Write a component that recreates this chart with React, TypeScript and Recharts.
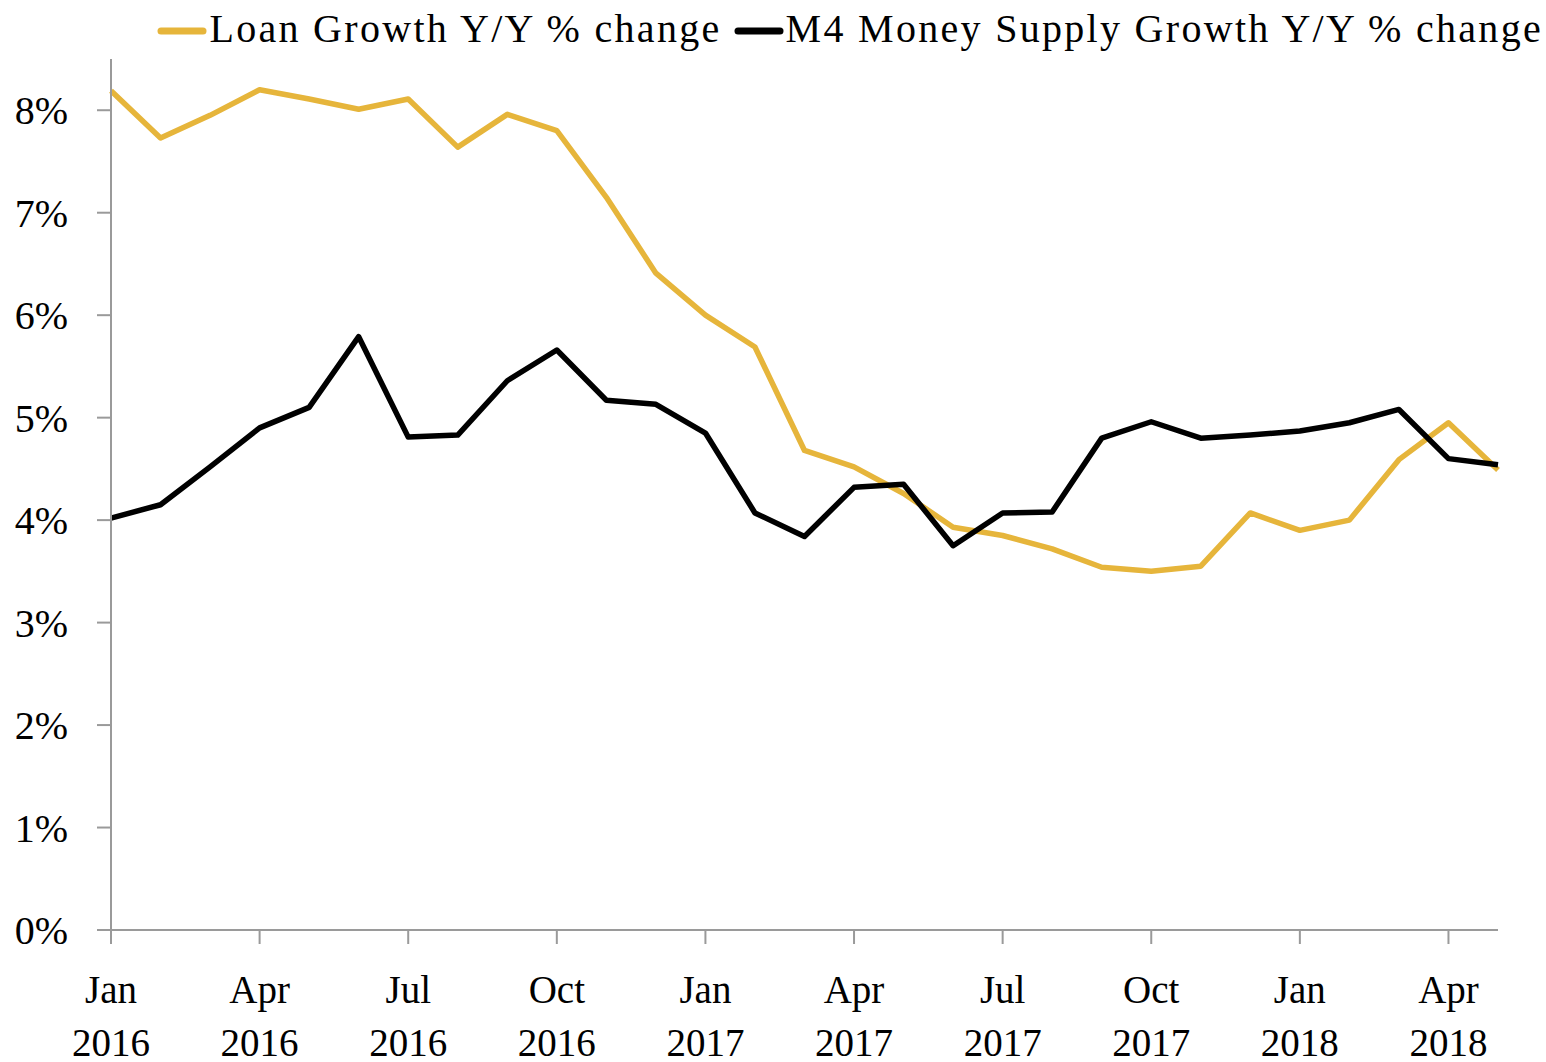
import React from 'react';
import { LineChart, Line, XAxis, YAxis, Legend } from 'recharts';

const months = [
  'Jan 2016', 'Feb 2016', 'Mar 2016', 'Apr 2016', 'May 2016', 'Jun 2016', 'Jul 2016', 'Aug 2016', 'Sep 2016', 'Oct 2016', 'Nov 2016', 'Dec 2016',
  'Jan 2017', 'Feb 2017', 'Mar 2017', 'Apr 2017', 'May 2017', 'Jun 2017', 'Jul 2017', 'Aug 2017', 'Sep 2017', 'Oct 2017', 'Nov 2017', 'Dec 2017',
  'Jan 2018', 'Feb 2018', 'Mar 2018', 'Apr 2018', 'May 2018',
];

const loanGrowth = [
  8.19, 7.73, 7.95, 8.2, 8.11, 8.01, 8.11, 7.64, 7.96, 7.8, 7.15, 6.41,
  6.0, 5.69, 4.68, 4.52, 4.26, 3.93, 3.85, 3.72, 3.54, 3.5, 3.55, 4.07,
  3.9, 4.0, 4.59, 4.95, 4.49,
];

const m4Growth = [
  4.02, 4.15, 4.52, 4.9, 5.1, 5.79, 4.81, 4.83, 5.36, 5.66, 5.17, 5.13,
  4.85, 4.07, 3.84, 4.32, 4.35, 3.75, 4.07, 4.08, 4.8, 4.96, 4.8, 4.83,
  4.87, 4.95, 5.08, 4.6, 4.54,
];

const yTicks = [0, 1, 2, 3, 4, 5, 6, 7, 8];

const seriesNames = ['Loan Growth Y/Y % change', 'M4 Money Supply Growth Y/Y % change'];
const seriesColors = ['#E6B53B', '#000000'];

const data = months.map((m, i) => ({ month: m, loan: loanGrowth[i], m4: m4Growth[i] }));

const FONT = '"Liberation Serif", "DejaVu Serif", serif';
const AXIS_COLOR = '#9a9a9a';

const XTick = (props: any) => {
  const { x, y, payload } = props;
  const [m, yr] = String(payload.value).split(' ');
  return (
    <text textAnchor="middle" fontFamily={FONT} fontSize={39} fill="#000">
      <tspan x={x} y={y + 59}>{m}</tspan>
      <tspan x={x} y={y + 112}>{yr}</tspan>
    </text>
  );
};

const LegendContent = () => (
  <div
    style={{
      display: 'flex',
      justifyContent: 'flex-end',
      alignItems: 'center',
      height: 59,
      paddingRight: 3,
      paddingBottom: 2,
      boxSizing: 'border-box',
      fontFamily: FONT,
      fontSize: 40,
      letterSpacing: 2.3,
      color: '#000',
      whiteSpace: 'nowrap',
    }}
  >
    {seriesNames.map((name, i) => (
      <div key={name} style={{ display: 'flex', alignItems: 'center', marginLeft: i === 0 ? 0 : 12 }}>
        <svg width={50} height={12} style={{ marginTop: 4 }}>
          <line x1={4} y1={6} x2={46} y2={6} stroke={seriesColors[i]} strokeWidth={7} strokeLinecap="round" />
        </svg>
        <span style={{ marginLeft: 2 }}>{name}</span>
      </div>
    ))}
  </div>
);

export default function App() {
  return (
    <div style={{ position: 'absolute', left: 0, top: 0, width: 1546, height: 1062, background: '#fff' }}>
      <LineChart width={1546} height={1062} data={data} margin={{ top: 0, right: 48, left: 0, bottom: 0 }}>
        <Legend
          verticalAlign="top"
          align="right"
          content={<LegendContent />}
          wrapperStyle={{ top: 0, left: 0, width: 1546, height: 59 }}
        />
        <XAxis
          dataKey="month"
          interval={2}
          height={132}
          tickSize={14}
          tickMargin={0}
          tick={<XTick />}
          axisLine={{ stroke: AXIS_COLOR, strokeWidth: 2 }}
          tickLine={{ stroke: AXIS_COLOR, strokeWidth: 2 }}
        />
        <YAxis
          width={111}
          domain={[0, 8.5]}
          ticks={yTicks}
          tickFormatter={(v: number) => `${v}%`}
          tickSize={14}
          tickMargin={29}
          tick={{ fontFamily: FONT, fontSize: 40, fill: '#000' }}
          axisLine={{ stroke: AXIS_COLOR, strokeWidth: 2 }}
          tickLine={{ stroke: AXIS_COLOR, strokeWidth: 2 }}
        />
        <Line
          type="linear"
          dataKey="loan"
          name={seriesNames[0]}
          stroke={seriesColors[0]}
          strokeWidth={5.5}
          strokeLinejoin="round"
          dot={false}
          isAnimationActive={false}
        />
        <Line
          type="linear"
          dataKey="m4"
          name={seriesNames[1]}
          stroke={seriesColors[1]}
          strokeWidth={5.5}
          strokeLinejoin="round"
          dot={false}
          isAnimationActive={false}
        />
      </LineChart>
    </div>
  );
}
